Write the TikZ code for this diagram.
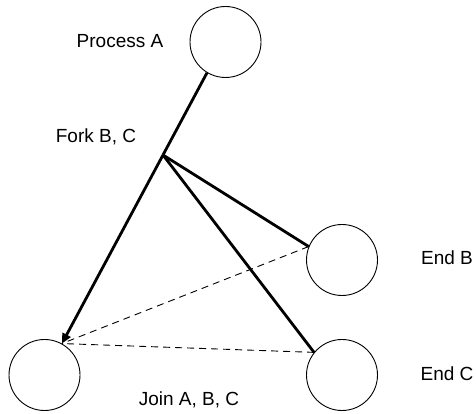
\documentclass[tikz,border=0pt]{standalone}
\usepackage{fontspec}
\setmainfont{Liberation Sans}
\usetikzlibrary{arrows.meta}
\begin{document}
\begin{tikzpicture}[x=1pt,y=1pt,
  state/.style={circle,draw,line width=0.9pt,minimum size=71pt,inner sep=0pt},
  lbl/.style={font=\fontsize{19}{22}\selectfont,inner sep=0pt},
  flow/.style={line width=2.8pt},
  sync/.style={dashed,line width=0.9pt,dash pattern=on 7pt off 5pt}]
\useasboundingbox (0,0) rectangle (476,414);
\node[state] (A) at (225.5,372) {};
\node[state] (J) at (44.5,39) {};
\node[state] (B) at (342,154) {};
\node[state] (C) at (342,39) {};
\coordinate (F) at (163,259);
\node[lbl] (lA) at (120,373) {Process A};
\node[lbl] (lF) at (96,277) {Fork B, C};
\node[lbl] (lB) at (447,156) {End B};
\node[lbl] (lC) at (447,40) {End C};
\node[lbl] (lJ) at (189,14) {Join A, B, C};
\draw[flow] (A.239.7) -- (F);
\draw[flow] (F) -- (B.158);
\draw[flow] (F) -- (C.141.6);
\draw[sync] (B.158) -- (J.61.3);
\draw[sync] (C.141.6) -- (J.61.3);
\draw[flow,-{Triangle[length=10pt,width=9pt]}] (F) -- (J.61.3);
\end{tikzpicture}
\end{document}
